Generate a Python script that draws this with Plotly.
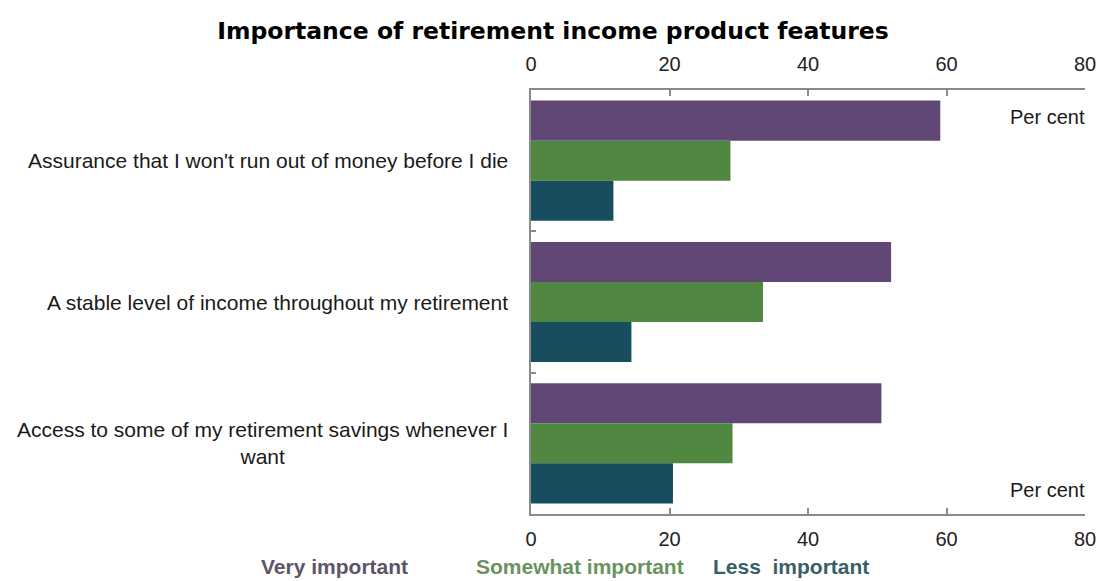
import plotly.graph_objects as go

categories = [
    "Assurance that I won't run out of money before I die",
    "A stable level of income throughout my retirement",
    "Access to some of my retirement savings whenever I<br>want",
]
series_names = ["Very important", "Somewhat important", "Less  important"]
very_important = [59.1, 52.0, 50.6]
somewhat_important = [28.8, 33.5, 29.1]
less_important = [11.9, 14.5, 20.5]
x_ticks = [0, 20, 40, 60, 80]

bar_colors = ["#614775", "#508741", "#184d5f"]
label_colors = ["#5e5468", "#6a9260", "#3a5f68"]

values = [very_important, somewhat_important, less_important]

fig = go.Figure()
for name, vals, col in zip(series_names, values, bar_colors):
    fig.add_trace(go.Bar(
        y=categories, x=vals, name=name, orientation="h",
        marker=dict(color=col, line=dict(width=0)),
        showlegend=False, hoverinfo="x+name",
    ))

# dummy trace to materialise the top axis
fig.add_trace(go.Scatter(
    x=[x_ticks[0], x_ticks[-1]], y=[categories[0], categories[0]],
    xaxis="x2", mode="markers", marker=dict(opacity=0),
    showlegend=False, hoverinfo="skip",
))

tick_font = dict(family="Liberation Sans, Arial", size=20, color="#222222")
axis_col = "#8a8a8a"

fig.update_layout(
    width=1099, height=581,
    margin=dict(l=531, r=14, t=90, b=67, autoexpand=False),
    paper_bgcolor="white", plot_bgcolor="white",
    barmode="group", bargap=0.15, bargroupgap=0,
    title=dict(
        text="<b>Importance of retirement income product features</b>",
        font=dict(family="DejaVu Sans, Verdana", size=23.5, color="#000000"),
        x=553 / 1099, xanchor="center", xref="container",
        y=1 - 31 / 581, yanchor="middle", yref="container",
    ),
    xaxis=dict(
        range=[x_ticks[0], x_ticks[-1]], tickvals=x_ticks, ticktext=[str(v) for v in x_ticks],
        side="bottom", showline=True, linecolor=axis_col, linewidth=2,
        ticks="inside", ticklen=6, tickwidth=2, tickcolor=axis_col, automargin=False,
        showgrid=False, zeroline=False, tickfont=tick_font, ticklabelstandoff=6,
    ),
    xaxis2=dict(
        range=[x_ticks[0], x_ticks[-1]], tickvals=x_ticks, ticktext=[str(v) for v in x_ticks],
        overlaying="x", side="top", matches="x", showline=True, linecolor=axis_col, linewidth=2,
        ticks="inside", ticklen=6, tickwidth=2, tickcolor=axis_col, automargin=False,
        showgrid=False, zeroline=False, tickfont=tick_font, ticklabelstandoff=9,
    ),
    yaxis=dict(
        autorange="reversed", showline=True, linecolor=axis_col, linewidth=2,
        ticks="inside", tickson="boundaries", ticklen=5, tickwidth=2, tickcolor=axis_col,
        showticklabels=False, showgrid=False, zeroline=False, automargin=False,
    ),
)

annotations = []
for cat in categories:
    annotations.append(dict(
        text=cat, xref="paper", x=0, xanchor="right", xshift=-21,
        yref="y", y=cat, yanchor="middle", align="center", showarrow=False,
        font=dict(family="Liberation Sans, Arial", size=21, color="#1a1a1a"),
    ))

for txt, py in [("Per cent", 1 - (117 - 90) / 424), ("Per cent", 1 - (490 - 90) / 424)]:
    annotations.append(dict(
        text=txt, xref="paper", x=1, xanchor="right", xshift=2,
        yref="paper", y=py, yanchor="middle", showarrow=False,
        font=dict(family="Liberation Sans, Arial", size=20, color="#1a1a1a"),
    ))

legend_x = [334, 580, 791]
for name, col, cx in zip(series_names, label_colors, legend_x):
    annotations.append(dict(
        text="<b>" + name.replace("  ", "&nbsp; ") + "</b>", xref="paper", x=(cx - 531) / 554, xanchor="center",
        yref="paper", y=(514 - 566) / 424, yanchor="middle", showarrow=False,
        font=dict(family="Liberation Sans, Arial", size=21, color=col),
    ))

fig.update_layout(annotations=annotations)
fig.write_html("out.html", config={"displayModeBar": False},
               post_script="document.body.style.margin='0px';")
